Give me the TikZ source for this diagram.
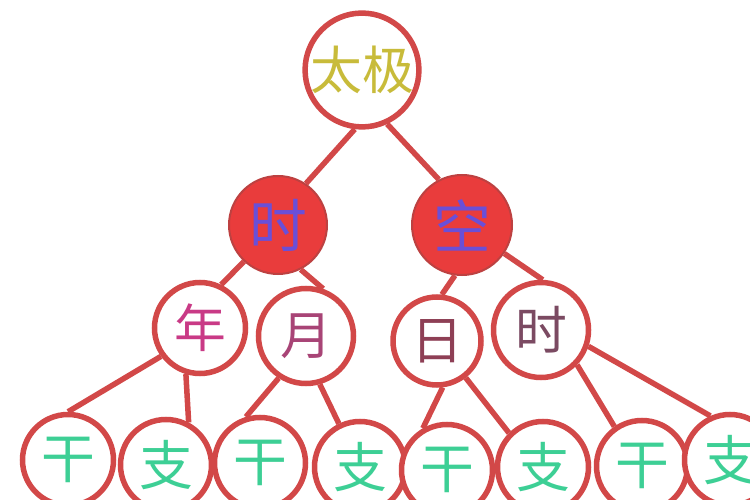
\documentclass[tikz,border=0pt]{standalone}
\usepackage{fontspec}
\newfontfamily\cjk{Noto Sans CJK SC}
\definecolor{ring}{HTML}{D24848}
\definecolor{fillred}{HTML}{E93C3C}
\definecolor{taiji}{HTML}{C8BB3A}
\definecolor{violet}{HTML}{6A4FD8}
\definecolor{niancol}{HTML}{C93A86}
\definecolor{yuecol}{HTML}{A84476}
\definecolor{ricol}{HTML}{8E3F55}
\definecolor{shicol}{HTML}{7B4A62}
\definecolor{gzcol}{HTML}{3DCF95}
\tikzset{
  ringnode/.style={circle, draw=ring, line width=5.5bp, fill=white, inner sep=0pt, font=\cjk},
  solidnode/.style={circle, draw=ring!90!black, line width=2bp, fill=fillred, inner sep=0pt, font=\cjk},
  link/.style={draw=ring, line width=5.5bp},
  big/.style={font=\cjk\fontsize{52}{52}\selectfont},
  mid/.style={font=\cjk\fontsize{58}{58}\selectfont},
  small/.style={font=\cjk\fontsize{52}{52}\selectfont},
  tiny/.style={font=\cjk\fontsize{54}{54}\selectfont}
}
\begin{document}
\begin{tikzpicture}[x=1bp,y=-1bp]
\fill[white] (0,0) rectangle (750,500);
\useasboundingbox (0,0) rectangle (750,500);
% level 0
\node[ringnode, minimum size=111bp, big, text=taiji] (tj) at (362,70) {太极};
% level 1
\node[solidnode, minimum size=98bp, mid, text=violet] (shiA) at (278,225) {时};
\node[solidnode, minimum size=100bp, mid, text=violet] (kong) at (462,225) {空};
% level 2
\node[ringnode, minimum size=91bp, small, text=niancol] (nian) at (200,328) {年};
\node[ringnode, minimum size=95bp, small, text=yuecol] (yue) at (306,336) {月};
\node[ringnode, minimum size=88bp, small, text=ricol] (ri) at (437,341) {日};
\node[ringnode, minimum size=95bp, small, text=shicol] (shiB) at (541,330) {时};
% level 3
\node[ringnode, minimum size=91bp, tiny, text=gzcol] (g1) at (68,460) {干};
\node[ringnode, minimum size=91bp, tiny, text=gzcol] (z1) at (166,465) {支};
\node[ringnode, minimum size=91bp, tiny, text=gzcol] (g2) at (260,463) {干};
\node[ringnode, minimum size=91bp, tiny, text=gzcol] (z2) at (360,467) {支};
\node[ringnode, minimum size=91bp, tiny, text=gzcol] (g3) at (447,470) {干};
\node[ringnode, minimum size=91bp, tiny, text=gzcol] (z3) at (543,467) {支};
\node[ringnode, minimum size=91bp, tiny, text=gzcol] (g4) at (642,466) {干};
\node[ringnode, minimum size=91bp, tiny, text=gzcol] (z4) at (730,460) {支};
% links
\draw[link] (tj.263) -- (shiA.56);
\draw[link] (tj.295) -- (kong.117);
\draw[link] (shiA.227) -- (nian.64);
\draw[link] (shiA.297) -- (yue.70);
\draw[link] (kong.262) -- (ri.84);
\draw[link] (kong.326) -- (shiB.88);
\draw[link] (nian.216) -- (g1.90);
\draw[link] (nian.253) -- (z1.62);
\draw[link] (yue.237) -- (g2.107);
\draw[link] (yue.286) -- (z2.116);
\draw[link] (ri.277) -- (g3.120);
\draw[link] (ri.308) -- (z3.135);
\draw[link] (shiB.316) -- (g4.125);
\draw[link] (shiB.341) -- (z4.114);
\end{tikzpicture}
\end{document}
